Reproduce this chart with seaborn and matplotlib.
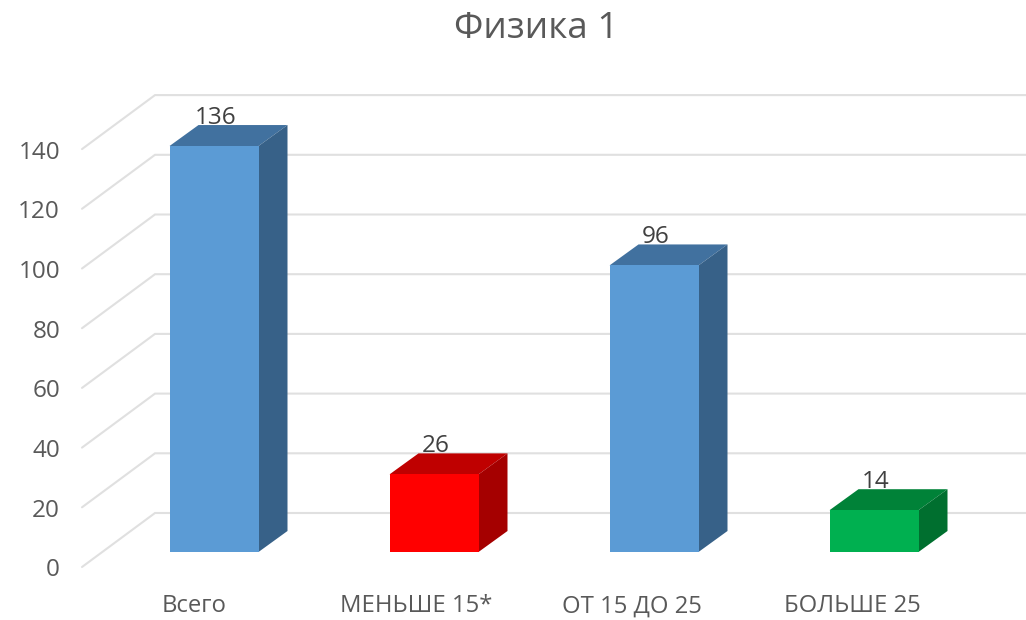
import pandas as pd
import matplotlib
matplotlib.use("Agg")
import matplotlib.pyplot as plt
import seaborn as sns

categories = ["Всего", "МЕНЬШЕ 15*", "ОТ 15 ДО 25", "БОЛЬШЕ 25"]
values = [136, 26, 96, 14]
front_colors = ["#5B9BD5", "#FF0000", "#5B9BD5", "#00B050"]
top_colors = ["#41719F", "#BF0000", "#41719F", "#008238"]
side_colors = ["#376188", "#A50000", "#376188", "#006F2F"]
y_ticks = [0, 20, 40, 60, 80, 100, 120, 140]
label_shift = [-20, -18, -22, -22]

sns.set_theme(style="white")
plt.rcParams['font.family'] = ['Open Sans', 'DejaVu Sans']

# pixel scale of the picture, the axes fill the whole figure
px_x = 220
px_y = 2.985
base_px = 552

fig = plt.figure(figsize=(10.26, 6.2), dpi=100)
ax = fig.add_axes([0, 0, 1, 1])

df = pd.DataFrame({"cat": categories, "val": values})
sns.barplot(data=df, x="cat", y="val", hue="cat", palette=front_colors, legend=False,
            saturation=1, width=89 / px_x, ax=ax, zorder=4, linewidth=0)

ax.set_xlim(-214 / px_x, (1026 - 214) / px_x)
ax.set_ylim((base_px - 620) / px_y, base_px / px_y)
ax.axis("off")

# wall grid: front edge sits 15px below the bar base, back wall 39px above it
wall_x0 = (82 - 214) / px_x
wall_x1 = (155 - 214) / px_x
right_x = (1026 - 214) / px_x
front_off = -15 / px_y
back_off = 39 / px_y
for v in y_ticks:
    ax.plot([wall_x0, wall_x1, right_x], [v + front_off, v + back_off, v + back_off],
            color="#E0E0E0", lw=1.5, zorder=1, solid_joinstyle="miter")
    ax.text((60 - 214) / px_x, v + front_off - 3.5 / px_y, str(v), ha="right", va="center",
            fontsize=17.5, color="#595959")

# depth faces of the bars
half = 89 / px_x / 2
dx = 29 / px_x
dy = 21 / px_y
for i, v in enumerate(values):
    l, r = i - half, i + half
    ax.fill([l, r, r + dx, l + dx], [v, v, v + dy, v + dy], color=top_colors[i], lw=0, zorder=3)
    ax.fill([r, r + dx, r + dx, r], [0, dy, v + dy, v], color=side_colors[i], lw=0, zorder=3)
    ax.text(i + 2 / px_x, v + dy + 7 / px_y, str(v), ha="center", va="center",
            fontsize=17.5, color="#404040", zorder=5)
    ax.text(i + label_shift[i] / px_x, -54.5 / px_y, categories[i], ha="center", va="center",
            fontsize=17.2, color="#595959")

fig.text(536 / 1026, 1 - 29 / 620, "Физика 1", ha="center", va="center",
         fontsize=26.6, color="#595959")

fig.savefig("out.png", dpi=100)
